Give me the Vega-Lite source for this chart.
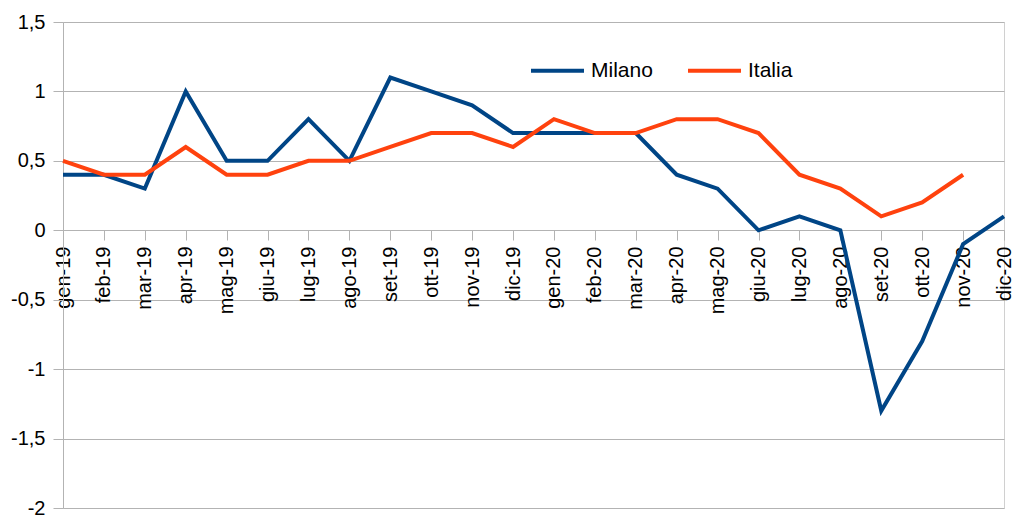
{
  "$schema": "https://vega.github.io/schema/vega-lite/v6.json",
  "width": 941,
  "height": 486,
  "autosize": {"type": "none"},
  "padding": {"left": 63, "top": 22, "right": 10, "bottom": 7},
  "background": "white",
  "config": {
    "view": {"stroke": "#d0d0d0", "strokeWidth": 1},
    "font": "Liberation Sans"
  },
  "data": {
    "values": [
      {"mese": "gen-19", "serie": "Milano", "valore": 0.4},
      {"mese": "feb-19", "serie": "Milano", "valore": 0.4},
      {"mese": "mar-19", "serie": "Milano", "valore": 0.3},
      {"mese": "apr-19", "serie": "Milano", "valore": 1.0},
      {"mese": "mag-19", "serie": "Milano", "valore": 0.5},
      {"mese": "giu-19", "serie": "Milano", "valore": 0.5},
      {"mese": "lug-19", "serie": "Milano", "valore": 0.8},
      {"mese": "ago-19", "serie": "Milano", "valore": 0.5},
      {"mese": "set-19", "serie": "Milano", "valore": 1.1},
      {"mese": "ott-19", "serie": "Milano", "valore": 1.0},
      {"mese": "nov-19", "serie": "Milano", "valore": 0.9},
      {"mese": "dic-19", "serie": "Milano", "valore": 0.7},
      {"mese": "gen-20", "serie": "Milano", "valore": 0.7},
      {"mese": "feb-20", "serie": "Milano", "valore": 0.7},
      {"mese": "mar-20", "serie": "Milano", "valore": 0.7},
      {"mese": "apr-20", "serie": "Milano", "valore": 0.4},
      {"mese": "mag-20", "serie": "Milano", "valore": 0.3},
      {"mese": "giu-20", "serie": "Milano", "valore": 0.0},
      {"mese": "lug-20", "serie": "Milano", "valore": 0.1},
      {"mese": "ago-20", "serie": "Milano", "valore": 0.0},
      {"mese": "set-20", "serie": "Milano", "valore": -1.3},
      {"mese": "ott-20", "serie": "Milano", "valore": -0.8},
      {"mese": "nov-20", "serie": "Milano", "valore": -0.1},
      {"mese": "dic-20", "serie": "Milano", "valore": 0.1},
      {"mese": "gen-19", "serie": "Italia", "valore": 0.5},
      {"mese": "feb-19", "serie": "Italia", "valore": 0.4},
      {"mese": "mar-19", "serie": "Italia", "valore": 0.4},
      {"mese": "apr-19", "serie": "Italia", "valore": 0.6},
      {"mese": "mag-19", "serie": "Italia", "valore": 0.4},
      {"mese": "giu-19", "serie": "Italia", "valore": 0.4},
      {"mese": "lug-19", "serie": "Italia", "valore": 0.5},
      {"mese": "ago-19", "serie": "Italia", "valore": 0.5},
      {"mese": "set-19", "serie": "Italia", "valore": 0.6},
      {"mese": "ott-19", "serie": "Italia", "valore": 0.7},
      {"mese": "nov-19", "serie": "Italia", "valore": 0.7},
      {"mese": "dic-19", "serie": "Italia", "valore": 0.6},
      {"mese": "gen-20", "serie": "Italia", "valore": 0.8},
      {"mese": "feb-20", "serie": "Italia", "valore": 0.7},
      {"mese": "mar-20", "serie": "Italia", "valore": 0.7},
      {"mese": "apr-20", "serie": "Italia", "valore": 0.8},
      {"mese": "mag-20", "serie": "Italia", "valore": 0.8},
      {"mese": "giu-20", "serie": "Italia", "valore": 0.7},
      {"mese": "lug-20", "serie": "Italia", "valore": 0.4},
      {"mese": "ago-20", "serie": "Italia", "valore": 0.3},
      {"mese": "set-20", "serie": "Italia", "valore": 0.1},
      {"mese": "ott-20", "serie": "Italia", "valore": 0.2},
      {"mese": "nov-20", "serie": "Italia", "valore": 0.4}
    ]
  },
  "mark": {"type": "line", "strokeWidth": 4, "strokeJoin": "miter"},
  "encoding": {
    "x": {
      "field": "mese",
      "type": "ordinal",
      "sort": null,
      "scale": {"type": "point", "padding": 0},
      "axis": {
        "title": null,
        "offset": -278,
        "labelAngle": -90,
        "labelFontSize": 20,
        "labelColor": "#000000",
        "labelPadding": 6,
        "domainColor": "#b3b3b3",
        "tickColor": "#b3b3b3",
        "tickSize": 10,
        "grid": false,
        "labelOverlap": false
      }
    },
    "y": {
      "field": "valore",
      "type": "quantitative",
      "scale": {"domain": [-2, 1.5], "nice": false, "zero": false},
      "axis": {
        "title": null,
        "values": [-2, -1.5, -1, -0.5, 0, 0.5, 1, 1.5],
        "labelExpr": "replace(toString(datum.value), '.', ',')",
        "labelFontSize": 20,
        "labelColor": "#000000",
        "labelPadding": 8,
        "domainColor": "#b3b3b3",
        "tickColor": "#b3b3b3",
        "tickSize": 10,
        "gridColor": "#b3b3b3",
        "gridWidth": 1
      }
    },
    "color": {
      "field": "serie",
      "type": "nominal",
      "sort": ["Milano", "Italia"],
      "scale": {"domain": ["Milano", "Italia"], "range": ["#004586", "#ff420e"]},
      "legend": {
        "title": null,
        "orient": "none",
        "direction": "horizontal",
        "legendX": 466,
        "legendY": 20,
        "padding": 0,
        "symbolType": "stroke",
        "symbolSize": 2809,
        "symbolStrokeWidth": 4,
        "labelFontSize": 21,
        "labelColor": "#000000",
        "labelOffset": 5,
        "columnPadding": 27
      }
    }
  }
}
